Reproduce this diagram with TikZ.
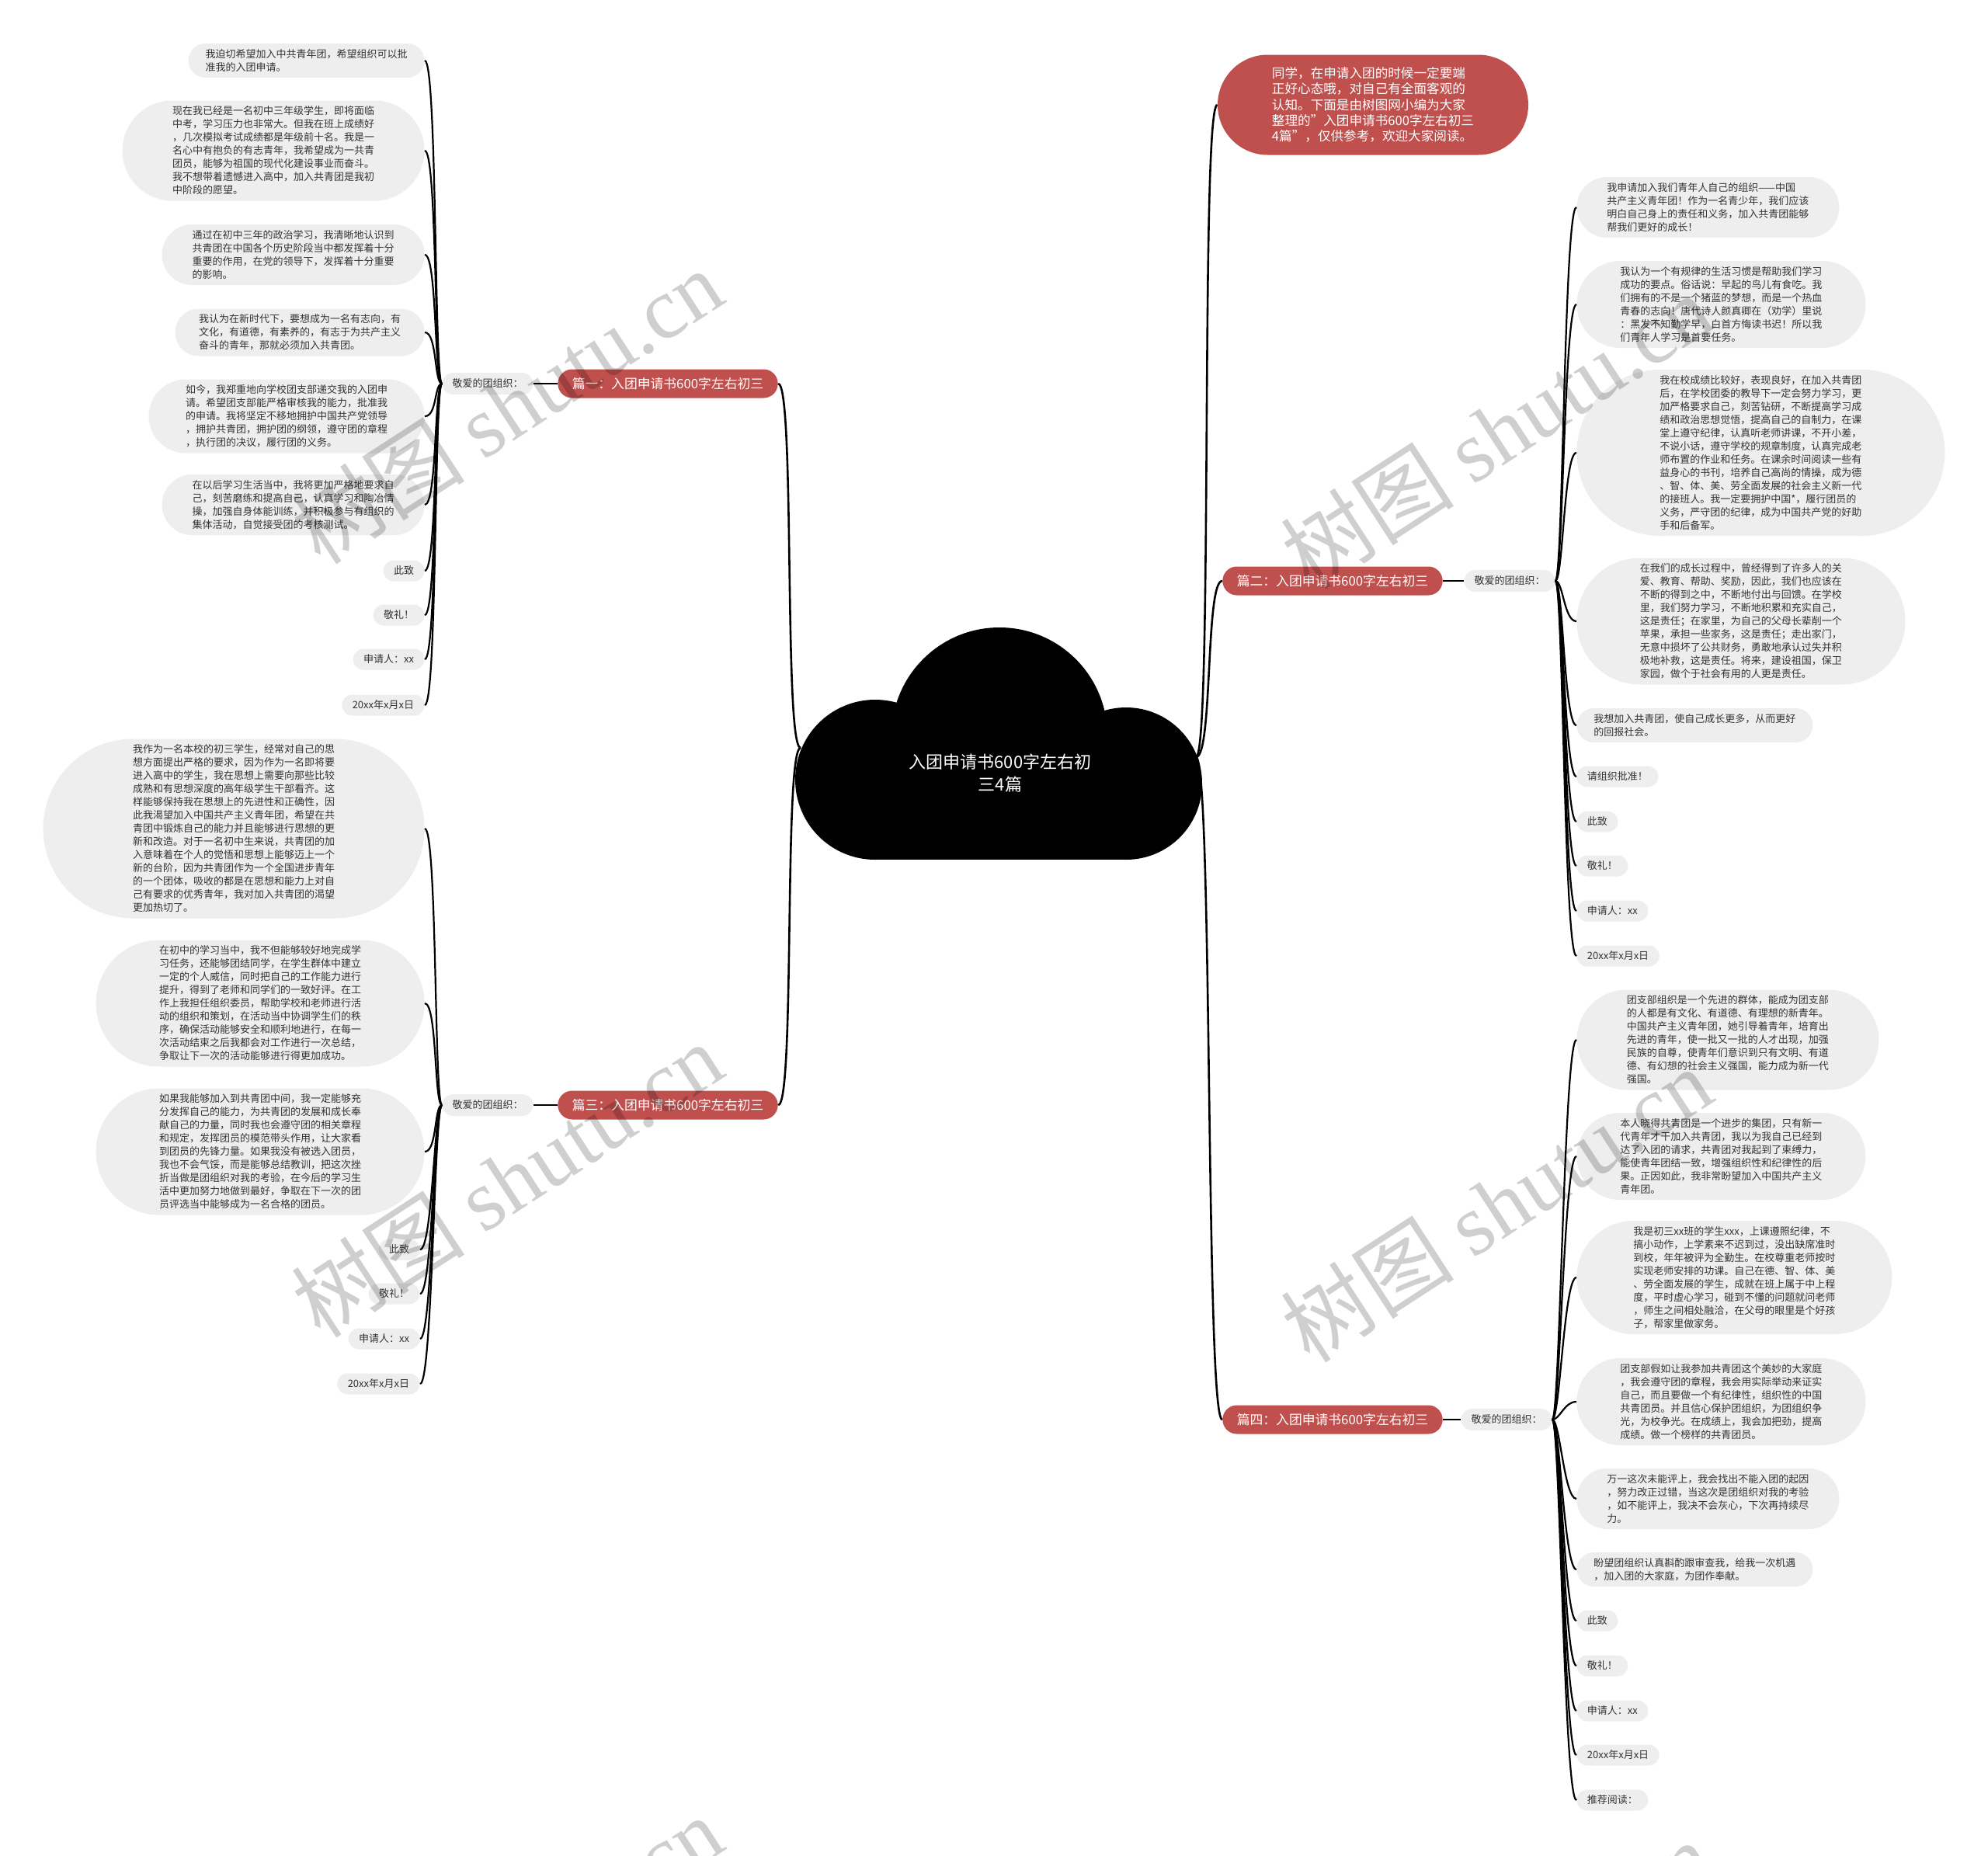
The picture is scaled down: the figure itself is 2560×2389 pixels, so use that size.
\documentclass[tikz,border=0pt]{standalone}
\usepackage{fontspec}
\setmainfont{Noto Sans CJK SC}
\newfontfamily\wmlatin{Liberation Serif}
\definecolor{redn}{RGB}{192,80,77}
\definecolor{leaffill}{RGB}{238,238,238}
\definecolor{leaftext}{RGB}{51,51,51}
\begin{document}
\begin{tikzpicture}[x=0.5pt,y=-0.5pt,
 leaf/.style={rectangle, fill=leaffill, text=leaftext, inner ysep=0pt, align=left,
   font=\fontsize{6.5}{8.5}\selectfont,
   minimum height=13.5pt+(#1-1)*8.5pt,
   inner xsep=(13.5pt+(#1-1)*8.5pt)/2,
   rounded corners=(13.5pt+(#1-1)*8.5pt)/2},
 leaf/.default=1,
 leafL/.style={leaf=#1, anchor=east}, leafL/.default=1,
 leafR/.style={leaf=#1, anchor=west}, leafR/.default=1,
 branch/.style={rectangle, fill=redn, text=white, inner ysep=0pt, minimum height=18.5pt,
   inner xsep=9.25pt, rounded corners=9.25pt, font=\fontsize{8.4}{10}\selectfont},
 subn/.style={rectangle, fill=leaffill, text=leaftext, inner ysep=0pt, minimum height=14pt,
   inner xsep=6.5pt, rounded corners=7pt, font=\fontsize{6.5}{8}\selectfont},
 intro/.style={rectangle, fill=redn, text=white, inner ysep=0pt, minimum height=64.5pt,
   inner xsep=35pt, rounded corners=32.25pt, align=left, font=\fontsize{8.3}{10.15}\selectfont},
 link/.style={line width=1.1pt, black},
 mainlink/.style={line width=1.3pt, black},
 wm/.style={opacity=0.19, rotate=33, font=\fontsize{56}{60}\selectfont}
]
\fill[white] (0,0) rectangle (2560,2389);
\useasboundingbox (0,0) rectangle (2560,2389);

% ---- cloud ----
\fill[black] (1127,1004) circle (51.5pt);
\fill[black] (1287,947) circle (69.5pt);
\fill[black] (1450,1009) circle (49pt);
\fill[black] (1127,947) rectangle (1450,1107);
\node[text=white, align=center, font=\fontsize{11}{14.5}\selectfont] (root) at (1288,996) {入团申请书600字左右初\\三4篇};
\coordinate (cL) at (1031,963);
\coordinate (cR) at (1540,975);

% ---- intro ----
\node[intro] (intro) at (1768,135) {同学，在申请入团的时候一定要端\\正好心态哦，对自己有全面客观的\\认知。下面是由树图网小编为大家\\整理的"入团申请书600字左右初三\\4篇"，仅供参考，欢迎大家阅读。};

% ---- branches ----
\node[branch] (b1) at (860,494) {篇一：入团申请书600字左右初三};
\node[branch] (b3) at (860,1423) {篇三：入团申请书600字左右初三};
\node[branch] (b2) at (1716,748) {篇二：入团申请书600字左右初三};
\node[branch] (b4) at (1716,1828) {篇四：入团申请书600字左右初三};

\node[subn] (s1) at (628,494) {敬爱的团组织：};
\node[subn] (s3) at (628,1423) {敬爱的团组织：};
\node[subn] (s2) at (1944,748) {敬爱的团组织：};
\node[subn] (s4) at (1940,1828) {敬爱的团组织：};

% ---- group 1 (left top) ----
\node[leafL=2] (a1) at (547,78) {我迫切希望加入中共青年团，希望组织可以批\\准我的入团申请。};
\node[leafL=7] (a2) at (547,194) {现在我已经是一名初中三年级学生，即将面临\\中考，学习压力也非常大。但我在班上成绩好\\，几次模拟考试成绩都是年级前十名。我是一\\名心中有抱负的有志青年，我希望成为一共青\\团员，能够为祖国的现代化建设事业而奋斗。\\我不想带着遗憾进入高中，加入共青团是我初\\中阶段的愿望。};
\node[leafL=4] (a3) at (547,328) {通过在初中三年的政治学习，我清晰地认识到\\共青团在中国各个历史阶段当中都发挥着十分\\重要的作用，在党的领导下，发挥着十分重要\\的影响。};
\node[leafL=3] (a4) at (547,428) {我认为在新时代下，要想成为一名有志向，有\\文化，有道德，有素养的，有志于为共产主义\\奋斗的青年，那就必须加入共青团。};
\node[leafL=5] (a5) at (547,536) {如今，我郑重地向学校团支部递交我的入团申\\请。希望团支部能严格审核我的能力，批准我\\的申请。我将坚定不移地拥护中国共产党领导\\，拥护共青团，拥护团的纲领，遵守团的章程\\，执行团的决议，履行团的义务。};
\node[leafL=4] (a6) at (547,650) {在以后学习生活当中，我将更加严格地要求自\\己，刻苦磨练和提高自己，认真学习和陶冶情\\操，加强自身体能训练，并积极参与有组织的\\集体活动，自觉接受团的考核测试。};
\node[leafL] (a7) at (547,735) {此致};
\node[leafL] (a8) at (547,792) {敬礼！};
\node[leafL] (a9) at (547,849) {申请人：xx};
\node[leafL] (a10) at (547,908) {20xx年x月x日};

% ---- group 3 (left bottom) ----
\node[leafL=13] (c1) at (547,1067) {我作为一名本校的初三学生，经常对自己的思\\想方面提出严格的要求，因为作为一名即将要\\进入高中的学生，我在思想上需要向那些比较\\成熟和有思想深度的高年级学生干部看齐。这\\样能够保持我在思想上的先进性和正确性，因\\此我渴望加入中国共产主义青年团，希望在共\\青团中锻炼自己的能力并且能够进行思想的更\\新和改造。对于一名初中生来说，共青团的加\\入意味着在个人的觉悟和思想上能够迈上一个\\新的台阶，因为共青团作为一个全国进步青年\\的一个团体，吸收的都是在思想和能力上对自\\己有要求的优秀青年，我对加入共青团的渴望\\更加热切了。};
\node[leafL=9] (c2) at (547,1292) {在初中的学习当中，我不但能够较好地完成学\\习任务，还能够团结同学，在学生群体中建立\\一定的个人威信，同时把自己的工作能力进行\\提升，得到了老师和同学们的一致好评。在工\\作上我担任组织委员，帮助学校和老师进行活\\动的组织和策划，在活动当中协调学生们的秩\\序，确保活动能够安全和顺利地进行，在每一\\次活动结束之后我都会对工作进行一次总结，\\争取让下一次的活动能够进行得更加成功。};
\node[leafL=9] (c3) at (547,1483) {如果我能够加入到共青团中间，我一定能够充\\分发挥自己的能力，为共青团的发展和成长奉\\献自己的力量，同时我也会遵守团的相关章程\\和规定，发挥团员的模范带头作用，让大家看\\到团员的先锋力量。如果我没有被选入团员，\\我也不会气馁，而是能够总结教训，把这次挫\\折当做是团组织对我的考验，在今后的学习生\\活中更加努力地做到最好，争取在下一次的团\\员评选当中能够成为一名合格的团员。};
\node[leafL] (c4) at (541,1609) {此致};
\node[leafL] (c5) at (541,1666) {敬礼！};
\node[leafL] (c6) at (541,1724) {申请人：xx};
\node[leafL] (c7) at (541,1782) {20xx年x月x日};

% ---- group 2 (right top) ----
\node[leafR=4] (d1) at (2030,267) {我申请加入我们青年人自己的组织——中国\\共产主义青年团！作为一名青少年，我们应该\\明白自己身上的责任和义务，加入共青团能够\\帮我们更好的成长！};
\node[leafR=6] (d2) at (2030,392) {我认为一个有规律的生活习惯是帮助我们学习\\成功的要点。俗话说：早起的鸟儿有食吃。我\\们拥有的不是一个猪蓝的梦想，而是一个热血\\青春的志向！唐代诗人颜真卿在（劝学）里说\\：黑发不知勤学早，白首方悔读书迟！所以我\\们青年人学习是首要任务。};
\node[leafR=12] (d3) at (2030,583) {我在校成绩比较好，表现良好，在加入共青团\\后，在学校团委的教导下一定会努力学习，更\\加严格要求自己，刻苦钻研，不断提高学习成\\绩和政治思想觉悟，提高自己的自制力，在课\\堂上遵守纪律，认真听老师讲课，不开小差，\\不说小话，遵守学校的规章制度，认真完成老\\师布置的作业和任务。在课余时间阅读一些有\\益身心的书刊，培养自己高尚的情操，成为德\\、智、体、美、劳全面发展的社会主义新一代\\的接班人。我一定要拥护中国*，履行团员的\\义务，严守团的纪律，成为中国共产党的好助\\手和后备军。};
\node[leafR=9] (d4) at (2030,800) {在我们的成长过程中，曾经得到了许多人的关\\爱、教育、帮助、奖励，因此，我们也应该在\\不断的得到之中，不断地付出与回馈。在学校\\里，我们努力学习，不断地积累和充实自己，\\这是责任；在家里，为自己的父母长辈削一个\\苹果，承担一些家务，这是责任；走出家门，\\无意中损坏了公共财务，勇敢地承认过失并积\\极地补救，这是责任。将来，建设祖国，保卫\\家园，做个于社会有用的人更是责任。};
\node[leafR=2] (d5) at (2030,934) {我想加入共青团，使自己成长更多，从而更好\\的回报社会。};
\node[leafR] (d6) at (2030,1000) {请组织批准！};
\node[leafR] (d7) at (2030,1058) {此致};
\node[leafR] (d8) at (2030,1115) {敬礼！};
\node[leafR] (d9) at (2030,1173) {申请人：xx};
\node[leafR] (d10) at (2030,1231) {20xx年x月x日};

% ---- group 4 (right bottom) ----
\node[leafR=7] (e1) at (2030,1339) {团支部组织是一个先进的群体，能成为团支部\\的人都是有文化、有道德、有理想的新青年。\\中国共产主义青年团，她引导着青年，培育出\\先进的青年，使一批又一批的人才出现，加强\\民族的自尊，使青年们意识到只有文明、有道\\德、有幻想的社会主义强国，能力成为新一代\\强国。};
\node[leafR=6] (e2) at (2030,1489) {本人晓得共青团是一个进步的集团，只有新一\\代青年才干加入共青团，我以为我自己已经到\\达了入团的请求，共青团对我起到了束缚力，\\能使青年团结一致，增强组织性和纪律性的后\\果。正因如此，我非常盼望加入中国共产主义\\青年团。};
\node[leafR=8] (e3) at (2030,1645) {我是初三xx班的学生xxx，上课遵照纪律，不\\搞小动作，上学素来不迟到过，没出缺席准时\\到校，年年被评为全勤生。在校尊重老师按时\\实现老师安排的功课。自己在德、智、体、美\\、劳全面发展的学生，成就在班上属于中上程\\度，平时虚心学习，碰到不懂的问题就问老师\\，师生之间相处融洽，在父母的眼里是个好孩\\子，帮家里做家务。};
\node[leafR=6] (e4) at (2030,1805) {团支部假如让我参加共青团这个美妙的大家庭\\，我会遵守团的章程，我会用实际举动来证实\\自己，而且要做一个有纪律性，组织性的中国\\共青团员。并且信心保护团组织，为团组织争\\光，为校争光。在成绩上，我会加把劲，提高\\成绩。做一个榜样的共青团员。};
\node[leafR=4] (e5) at (2030,1930) {万一这次未能评上，我会找出不能入团的起因\\，努力改正过错，当这次是团组织对我的考验\\，如不能评上，我决不会灰心，下次再持续尽\\力。};
\node[leafR=2] (e6) at (2030,2021) {盼望团组织认真斟酌跟审查我，给我一次机遇\\，加入团的大家庭，为团作奉献。};
\node[leafR] (e7) at (2030,2087) {此致};
\node[leafR] (e8) at (2030,2145) {敬礼！};
\node[leafR] (e9) at (2030,2203) {申请人：xx};
\node[leafR] (e10) at (2030,2260) {20xx年x月x日};
\node[leafR] (e11) at (2030,2318) {推荐阅读：};

% ---- connectors ----
\draw[mainlink] (cL) .. controls +(-22,0) and +(22,0) .. (b1.east);
\draw[mainlink] (cL) .. controls +(-22,0) and +(22,0) .. (b3.east);
\draw[mainlink] (cR) .. controls +(22,0) and +(-22,0) .. (intro.west);
\draw[mainlink] (cR) .. controls +(22,0) and +(-22,0) .. (b2.west);
\draw[mainlink] (cR) .. controls +(22,0) and +(-22,0) .. (b4.west);

\draw[link] (b1.west) -- (s1.east);
\draw[link] (b3.west) -- (s3.east);
\draw[link] (b2.east) -- (s2.west);
\draw[link] (b4.east) -- (s4.west);

\foreach \n in {a1,a2,a3,a4,a5,a6,a7,a8,a9,a10}
  \draw[link] (s1.west) .. controls +(-10,0) and +(16,0) .. (\n.east);
\foreach \n in {c1,c2,c3,c4,c5,c6,c7}
  \draw[link] (s3.west) .. controls +(-10,0) and +(16,0) .. (\n.east);
\foreach \n in {d1,d2,d3,d4,d5,d6,d7,d8,d9,d10}
  \draw[link] (s2.east) .. controls +(10,0) and +(-16,0) .. (\n.west);
\foreach \n in {e1,e2,e3,e4,e5,e6,e7,e8,e9,e10,e11}
  \draw[link] (s4.east) .. controls +(10,0) and +(-16,0) .. (\n.west);

% ---- watermarks ----
\node[wm] (w1) at (653,523) {树图 {\wmlatin shutu.cn}};
\node[wm] (w2) at (1927,555) {树图 {\wmlatin shutu.cn}};
\node[wm] (w3) at (653,1519) {树图 {\wmlatin shutu.cn}};
\node[wm] (w4) at (1927,1551) {树图 {\wmlatin shutu.cn}};
\node[wm] (w5) at (653,2515) {树图 {\wmlatin shutu.cn}};
\node[wm] (w6) at (1927,2547) {树图 {\wmlatin shutu.cn}};
\end{tikzpicture}
\end{document}
